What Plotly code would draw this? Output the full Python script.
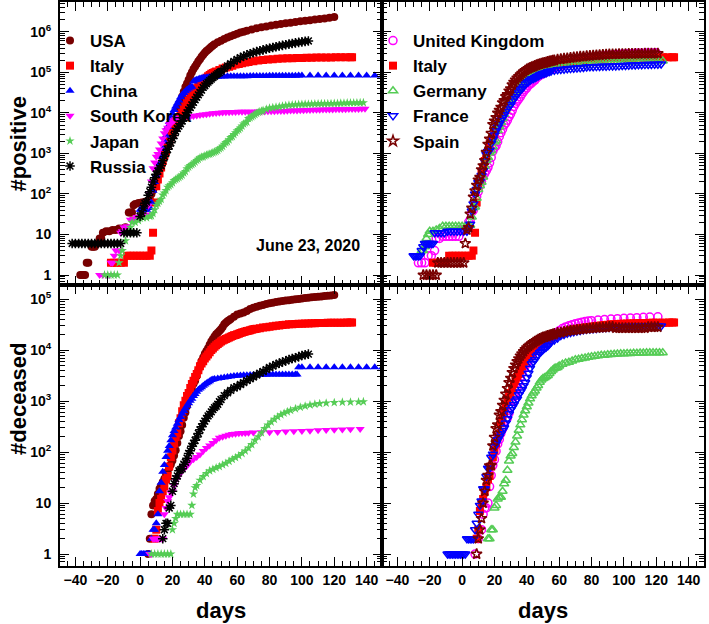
import plotly.graph_objects as go

# ---------------- DATA (days since per-country reference day, cumulative counts) ----------------
# Top-left: #positive
usa_pos_days = [-37,-36,-35,-34,-33,-32,-30,-29,-28,-26,-25,-24,-23,-21,-19,-17,-15,-13,-11,-9,-7,-6,-5,-4,-3,-1,1,3,5,6,7,8,9,10,11,12,13,14,15,16,17,18,19,20,21,22,23,24,25,26,27,28,29,30,31,32,33,34,35,36,37,38,39,40,41,42,43,44,45,46,48,50,52,54,56,58,60,62,64,66,69,72,75,78,81,84,87,90,93,96,99,102,105,108,111,114,117,120]
usa_pos = [1,1,1,1,2,2,5,5,5,6,8,8,11,12,12,13,13,14,14,15,35,35,35,53,57,60,62,64,68,75,100,124,158,221,319,435,541,704,994,1301,1630,2183,2770,3613,4596,6344,7783,13747,19273,25600,33276,43847,53740,65778,83836,101657,121465,140909,161831,188172,213242,243622,275367,308650,336802,366317,397121,428654,462780,496535,555313,607670,667592,735086,784326,840351,905358,965785,1012582,1069424,1158040,1237633,1309550,1369376,1442824,1508308,1577287,1643246,1699176,1770384,1831821,1897380,1961185,2023347,2093335,2163290,2255119,2347491]

italy_pos_days = [-18,-16,-14,-12,-10,-8,-6,-4,-2,0,2,4,6,7,8,9,10,11,12,13,14,15,16,17,18,19,20,21,22,23,24,25,26,27,28,29,30,31,32,33,34,35,36,37,38,39,40,41,42,43,44,45,46,47,49,51,53,55,57,59,61,63,65,67,70,73,76,79,82,85,88,91,94,97,100,103,106,109,112,115,118,121,124,127,130,131]
italy_pos = [2,2,2,2,2,3,3,3,3,3,3,3,3,4,11,62,155,229,322,453,655,888,1128,1694,2036,2502,3089,3858,4636,5883,7375,9172,10149,12462,15113,17660,21157,24747,27980,31506,35713,41035,47021,53578,59138,63927,69176,74386,80589,86498,92472,97689,101739,105792,115242,124632,132547,139422,147577,156363,162488,168941,175925,181228,189973,197675,203591,209328,213013,217185,219814,223096,225435,227364,229327,230555,232248,233197,234013,234998,235763,236651,237500,238159,238720,238833]

china_pos_days = [0,1,2,3,4,5,6,7,8,9,10,11,12,13,14,15,16,17,18,19,20,21,22,23,24,25,26,27,28,29,30,31,32,33,34,35,36,37,38,39,40,41,42,43,44,45,46,48,50,52,54,56,58,60,62,64,66,68,70,72,74,76,78,80,82,84,86,88,90,92,94,96,98,100,105,110,115,120,125,130,135,140,145,150,155]
china_pos = [41,41,41,41,41,45,45,62,121,198,291,440,571,830,1287,1975,2744,4515,5974,7711,9692,11791,14380,17205,20438,24324,28018,31161,34546,37198,40171,42638,44653,59804,63851,66492,68500,70548,72436,74185,74576,75465,76288,76936,77150,77658,78064,78824,79251,80026,80409,80651,80770,80860,80980,81062,81169,81300,81439,81661,81865,82054,82211,82447,82631,82779,82883,82992,83071,83173,83306,83370,83760,83864,83912,83944,83976,84010,84054,84103,84154,84228,84291,84494,84653]

korea_pos_days = [-25,-23,-21,-19,-18,-17,-16,-15,-13,-12,-11,-10,-8,-6,-4,-2,0,2,3,4,5,6,7,8,9,10,11,12,13,14,15,16,17,18,19,20,21,22,23,24,25,26,27,29,31,33,35,37,39,41,43,45,47,49,51,53,55,57,59,61,63,65,67,69,71,73,75,77,79,81,83,85,87,89,91,93,95,97,99,101,103,105,107,109,111,113,115,117,119,121,123,125,127,129,131,133,135,137,139]
korea_pos = [1,1,1,1,2,2,3,4,4,11,12,15,16,23,24,27,28,29,30,31,51,104,204,433,602,833,977,1261,1766,2337,3150,3736,4335,5186,5621,6088,6593,7041,7314,7478,7513,7755,7869,8086,8236,8413,8652,8897,9137,9332,9583,9786,9976,10156,10331,10423,10480,10537,10591,10653,10694,10728,10752,10774,10801,10822,10874,10909,10962,11018,11078,11122,11190,11265,11344,11441,11503,11590,11668,11719,11814,11902,11947,12003,12051,12121,12155,12198,12257,12306,12373,12421,12438,12484,12535,12563,12602,12653,12715]

japan_pos_days = [-22,-20,-18,-16,-14,-13,-12,-11,-9,-7,-6,-5,-3,-1,0,2,4,6,7,8,9,10,11,12,13,14,15,16,17,18,19,20,21,22,23,24,25,26,27,28,29,30,31,32,33,34,35,36,37,38,39,40,41,42,43,44,45,46,47,48,49,50,51,52,53,54,55,56,57,58,59,60,61,62,63,64,65,66,67,68,69,70,71,72,73,74,75,76,78,80,82,84,86,88,90,92,94,96,98,100,102,104,106,108,110,112,114,116,118,120,122,124,126,128,130,132,134,136,138]
japan_pos = [1,1,1,1,1,2,3,4,7,11,15,20,20,22,25,26,26,28,29,33,41,53,59,66,74,94,105,122,147,159,170,189,214,228,241,256,274,293,331,360,420,461,502,530,568,619,675,716,780,814,829,873,914,950,963,1007,1046,1089,1128,1193,1307,1387,1499,1693,1866,1953,2178,2495,2617,2935,3271,3654,3906,4257,4768,5347,5750,6005,7255,7645,8100,8582,9167,9795,10361,10751,11135,11512,12368,13182,13576,13965,14281,14839,15231,15547,15798,16024,16203,16305,16424,16513,16581,16719,16804,16884,16930,16986,17064,17210,17251,17382,17502,17628,17668,17740,17799,17879,17968]

russia_pos_days = [-42,-40,-38,-36,-34,-32,-30,-28,-26,-24,-22,-20,-18,-16,-14,-12,-10,-8,-6,-4,-2,0,1,2,3,4,5,6,7,8,9,10,11,12,13,14,15,16,17,18,19,20,21,22,23,24,25,26,27,28,29,30,31,32,33,34,35,36,37,38,39,40,41,42,43,44,45,46,47,48,49,50,52,54,56,58,60,62,64,66,68,70,72,74,76,78,80,82,84,86,88,90,92,94,96,98,100,102,104]
russia_pos = [6,6,6,6,6,6,6,6,6,6,6,6,6,6,6,6,11,11,11,11,11,28,34,45,59,63,93,114,147,199,253,306,367,438,495,658,840,1036,1264,1534,1836,2337,2777,3548,4149,4731,5389,6343,7497,8672,10131,11917,13584,15770,18328,21102,24490,27938,32008,36793,42853,47121,52763,57999,62773,68622,74588,80949,87147,93558,99399,106498,124054,145268,165929,187859,209688,232243,252245,272043,290678,308705,326448,344481,362342,379051,396575,414878,432277,449256,467073,485253,502436,519458,537210,553301,569063,584680,599705]

# Bottom-left: #deceased
usa_dec_days = [5,6,7,8,9,10,11,12,13,14,15,16,17,18,19,20,21,22,23,24,25,26,27,28,29,30,31,32,33,34,35,36,37,38,39,40,41,42,43,44,45,46,47,48,49,50,51,52,53,54,55,56,58,60,62,64,66,68,70,72,74,76,78,80,82,84,86,88,90,92,94,96,98,100,102,104,106,108,110,112,114,116,118,120]
usa_dec = [1,2,6,9,11,12,15,19,22,26,30,38,41,49,57,68,86,109,150,206,255,341,471,600,800,1070,1300,1700,2200,2500,3100,4000,5000,6100,7200,8500,9600,10900,12800,14800,16600,18600,20500,22000,23600,25800,28300,32000,34500,36700,38700,40600,45000,49800,52200,55000,58500,63800,67700,70800,74000,77200,80700,83000,85200,87500,90300,92000,94000,95500,97500,99300,101000,103000,104800,106800,108800,110400,111900,113300,114700,116000,118000,120500]

italy_dec_days = [9,10,11,12,13,14,15,16,17,18,19,20,21,22,23,24,25,26,27,28,29,30,31,32,33,34,35,36,37,38,39,40,41,42,43,44,45,46,47,48,49,50,51,52,53,54,55,56,57,58,59,60,61,62,63,64,65,66,67,68,69,70,71,72,74,76,78,80,82,84,86,88,90,92,94,96,98,100,102,104,106,108,110,112,114,116,118,120,122,124,126,128,130,131]
italy_dec = [2,3,7,10,12,17,21,29,34,52,79,107,148,197,233,366,463,631,827,1016,1266,1441,1809,2158,2503,2978,3405,4032,4825,5476,6077,6820,7503,8165,9134,10023,10779,11591,12428,13155,13915,14681,15362,15887,16523,17127,17669,18279,18849,19468,19899,20465,21067,21645,22170,22745,23227,23660,24114,24648,25085,25549,25969,26384,26977,27682,28236,28884,29315,29958,30560,31106,31610,32007,32330,32616,32877,33072,33340,33475,33601,33774,33899,34043,34167,34301,34405,34448,34514,34561,34610,34634,34657,34675]

china_dec_days = [0,1,2,3,4,5,6,7,8,9,10,11,12,13,14,15,16,17,18,19,20,21,22,23,24,25,26,27,28,29,30,31,32,33,34,35,36,37,38,39,40,41,42,43,44,45,46,48,50,52,54,56,58,60,62,64,66,68,70,72,74,76,78,80,82,84,86,88,90,92,94,96,97,98,100,105,110,115,120,125,130,135,140,145,150,155]
china_dec = [1,1,1,1,1,1,1,2,3,3,4,6,17,25,41,56,80,106,132,170,213,259,304,361,425,490,563,636,722,811,908,1016,1113,1259,1380,1523,1665,1770,1868,2004,2118,2236,2345,2442,2592,2663,2715,2788,2835,2912,2981,3042,3097,3136,3169,3199,3231,3249,3261,3277,3287,3295,3304,3309,3318,3326,3331,3335,3339,3340,3341,3342,3342,4632,4632,4632,4633,4633,4633,4634,4634,4634,4634,4634,4634,4634]

korea_dec_days = [6,7,8,9,10,11,12,13,14,15,16,17,18,19,20,21,22,23,24,25,26,27,28,29,30,31,33,35,37,39,41,43,45,47,49,51,53,55,57,59,61,63,65,67,70,75,80,85,90,95,100,105,110,115,120,125,130,136]
korea_dec = [1,1,2,2,2,2,2,2,2,6,8,11,13,16,17,22,28,32,35,42,44,50,51,54,60,66,72,80,90,105,120,135,150,170,190,200,210,218,225,230,233,236,238,240,242,244,246,249,252,256,260,263,267,270,273,277,280,284]

japan_dec_days = [7,9,11,13,15,17,19,20,21,22,23,25,27,29,31,32,33,34,35,37,39,41,43,45,47,49,51,53,55,57,59,61,63,65,67,69,71,73,75,77,79,81,83,85,87,89,91,93,96,99,102,105,108,111,115,120,125,130,135,138]
japan_dec = [1,1,1,1,1,1,1,3,4,5,6,6,6,6,6,9,15,20,22,28,33,38,43,46,49,52,56,60,66,72,78,85,94,105,120,140,170,200,240,290,340,390,440,490,540,580,620,660,710,760,800,840,870,895,915,935,950,958,965,971]

russia_dec_days = [14,15,16,17,18,19,20,21,22,23,24,25,26,27,28,29,30,31,32,33,34,35,36,37,38,39,40,41,42,43,44,45,46,47,48,49,50,52,54,56,58,60,62,64,66,68,70,72,74,76,78,80,82,84,86,88,90,92,94,96,98,100,102,104]
russia_dec = [2,3,4,4,8,9,17,24,30,34,43,45,47,58,63,76,94,106,130,148,170,198,232,273,313,361,405,456,513,555,615,681,747,794,867,972,1073,1280,1451,1625,1827,1915,2116,2305,2537,2722,2972,3249,3541,3807,4142,4555,4855,5215,5528,5859,6142,6532,6829,7081,7468,7831,8111,8359]

# Top-right: #positive
uk_pos_days = [-27,-25,-23,-21,-19,-17,-16,-14,-12,-10,-8,-6,-4,-2,-1,0,2,3,4,5,6,7,8,9,10,11,12,13,14,15,16,17,18,19,20,21,22,23,24,25,26,27,28,29,30,31,32,33,34,35,36,37,38,39,40,41,42,43,44,45,46,47,48,49,50,51,52,53,54,55,56,58,60,62,64,66,68,70,72,74,76,78,80,82,84,86,88,90,92,94,96,98,100,102,104,106,108,110,112,114,116,118,120]
uk_pos = [2,2,2,3,3,4,8,8,9,9,9,9,9,9,13,13,13,15,20,23,36,40,51,85,115,163,206,273,321,382,456,590,798,1140,1391,1543,1950,2626,3269,3983,5018,5683,6650,8077,9529,11658,14543,17089,19522,22141,25150,29474,33718,38168,41903,47806,51608,55242,60733,65077,73758,78991,84279,88621,93873,98476,103093,108692,114217,120067,124743,133495,143464,152840,161145,171253,182260,190584,201101,211364,219183,226463,233151,240161,246406,250908,257154,261184,267240,274762,279856,283311,286194,289140,291588,294375,296857,298136,300469,301815,303110,304331,306210]

germany_pos_days = [-25,-24,-23,-22,-21,-20,-18,-16,-14,-12,-10,-8,-6,-4,-2,0,2,4,5,6,7,8,9,10,11,12,13,14,15,16,17,18,19,20,21,22,23,24,25,26,27,28,29,30,31,32,33,34,35,36,37,38,39,40,41,42,43,44,45,46,47,48,49,50,51,52,53,54,55,56,58,60,62,64,66,68,70,72,74,76,78,80,82,84,86,88,90,92,94,96,98,100,102,104,106,108,110,112,114,116,118,120,122,124]
germany_pos = [4,4,5,8,10,12,12,13,14,16,16,16,16,16,16,16,16,17,17,27,46,48,79,130,159,196,262,482,670,799,1040,1176,1457,1908,2078,3675,4585,5795,7272,9257,12327,15320,19848,22213,24873,29056,32986,37323,43938,50871,57695,62095,66885,71808,77872,84794,91159,96092,100123,103375,107663,113296,118181,122171,124908,127854,130072,131359,134753,137698,143342,147065,150648,153129,156513,158758,161539,163009,164077,166152,167300,169218,171324,172576,173772,174975,176007,177778,178531,179364,180600,181482,182922,183678,184472,185416,186109,186839,187671,188252,189135,190299,190862,191449]

france_pos_days = [-30,-29,-28,-27,-26,-25,-24,-23,-22,-21,-20,-19,-18,-17,-15,-13,-11,-9,-7,-5,-3,-1,1,3,4,5,6,7,8,9,10,11,12,13,14,15,16,17,18,19,20,21,22,23,24,25,26,27,28,29,30,31,32,33,34,35,36,37,38,39,40,41,42,43,44,45,46,47,48,49,50,51,52,53,54,55,57,59,61,63,65,67,69,71,73,75,77,79,81,83,85,87,89,91,93,95,97,99,101,103,105,107,109,111,113,115,117,119,121,123]
france_pos = [3,3,3,3,3,4,5,6,6,6,6,6,6,11,11,11,11,12,12,12,12,12,12,12,14,18,38,57,100,130,191,204,285,377,653,949,1126,1209,1784,2281,2876,3661,4499,5423,6633,7652,9043,10871,12612,14459,16018,19856,22304,25233,29155,32964,37575,40174,44550,52128,56989,59105,64338,68605,70478,74390,78167,82048,86334,90276,93790,95403,98076,103573,106206,108847,112606,117324,119151,120804,124114,124575,126835,128442,130185,132967,137150,138421,139063,139519,140734,141919,142291,143427,144163,145279,145555,148524,149071,151325,152444,153634,155136,155561,156287,157220,158174,159452,160093,161267]

spain_pos_days = [-24,-22,-20,-18,-16,-15,-13,-11,-9,-7,-5,-3,-1,1,2,3,4,5,6,7,8,9,10,11,12,13,14,15,16,17,18,19,20,21,22,23,24,25,26,27,28,29,30,31,32,33,34,35,36,37,38,39,40,41,42,43,44,45,46,47,48,49,50,51,52,53,54,55,56,57,59,61,63,65,67,69,71,73,75,77,79,81,83,85,87,89,91,93,95,97,99,101,103,105,107,109,111,113,115,117,119,121]
spain_pos = [1,1,1,1,1,2,2,2,2,2,2,2,2,2,6,13,15,32,45,84,120,165,222,259,400,500,673,1073,1695,2277,3146,5232,6391,7798,9942,11748,13910,17963,20410,25374,28603,35136,39885,49515,57786,65719,73235,80110,87956,95923,104118,112065,119199,124736,130759,135032,140510,146690,152446,157022,161852,166019,169496,172541,177633,182816,188068,191726,195944,200210,208389,213024,219764,223759,229422,236899,239639,245567,248301,253682,256855,262783,264663,269520,272646,276505,278803,280117,282370,283339,284986,286509,287406,288058,288797,289360,290289,291008,291763,292655,293018,293832]

# Bottom-right: #deceased
uk_dec_days = [8,10,12,13,14,15,16,17,18,19,20,21,22,23,24,25,26,27,28,29,30,31,32,33,34,35,36,37,38,39,40,41,42,43,44,45,46,47,48,49,50,52,54,56,58,60,62,64,66,68,70,72,74,76,78,80,84,88,92,96,100,104,108,112,116,121]
uk_dec = [1,2,3,6,8,8,10,21,35,55,71,104,144,177,233,281,335,422,465,578,759,1019,1228,1408,1789,2352,2921,3605,4313,4934,5373,6159,7097,7978,8958,9875,10612,11329,12107,12868,13729,15464,17300,19500,21800,24000,26500,28500,30000,31500,33000,34200,35300,36300,37100,37800,38900,39800,40600,41300,42000,42700,43300,43900,44400,45000]

germany_dec_days = [16,17,18,19,20,21,22,23,24,25,26,27,28,29,30,31,32,33,34,35,36,37,38,39,40,41,42,43,44,45,46,47,48,49,50,51,52,53,54,55,56,57,58,59,60,62,64,66,68,70,72,74,76,78,80,82,84,86,88,90,92,94,96,98,100,102,104,106,108,110,112,114,116,118,120,122,124]
germany_dec = [2,2,3,3,8,9,12,13,13,17,24,28,44,67,84,94,123,157,206,267,342,433,533,645,775,920,1107,1275,1444,1584,1810,2016,2349,2607,2767,2873,3022,3194,3495,3804,4052,4352,4459,4586,4862,5279,5575,5760,6115,6467,6623,6831,6993,7275,7392,7549,7723,7897,7938,8090,8203,8283,8371,8450,8511,8576,8613,8674,8711,8776,8813,8846,8856,8872,8887,8895,8914]

france_dec_days = [-9,-8,-7,-6,-5,-4,-3,-2,-1,0,1,2,3,4,5,6,7,8,9,10,11,12,13,14,15,16,17,18,19,20,21,22,23,24,25,26,27,28,29,30,31,32,33,34,35,36,37,38,39,40,41,42,43,44,45,46,47,48,49,50,51,52,53,54,55,57,59,61,63,65,67,69,71,73,75,77,79,81,83,85,87,89,91,93,95,97,99,101,103,105,107,109,111,113,115,117,119,121,123]
france_dec = [1,1,1,1,1,1,1,1,1,1,1,1,2,2,2,2,2,3,4,6,9,11,19,19,33,48,48,79,91,127,148,175,200,230,264,300,372,450,562,674,760,860,1000,1100,1331,1500,1696,1995,2314,2900,3523,4403,5387,5900,6507,7560,8078,8911,9500,10328,10869,11500,12210,13197,14393,15729,17188,19323,20265,21340,22245,22856,23660,24376,25201,25531,25987,26380,26643,27074,27425,27625,28022,28289,28530,28714,28802,28940,29021,29155,29296,29374,29436,29547,29617,29640,29690,29723,29750]

spain_dec_days = [9,10,11,12,13,14,15,16,17,18,19,20,21,22,23,24,25,26,27,28,29,30,31,32,33,34,35,36,37,38,39,40,41,42,43,44,45,46,47,48,49,50,51,52,53,54,55,56,57,59,61,63,65,67,69,71,73,75,77,79,81,83,85,87,89,91,93,95,97,99,101,103,105,107,109,111,113,115,117,119,121]
spain_dec = [1,2,3,5,10,17,28,35,54,55,133,195,289,342,533,623,830,1043,1375,1772,2311,2808,3647,4365,5138,5982,6803,7716,8464,9387,10348,11198,11947,12641,13341,14045,14792,15447,16081,16606,17209,17756,18056,18579,19130,19478,20043,20453,20852,21717,22157,22902,23521,24275,24543,25100,25428,25857,26299,26621,26920,27321,27563,27709,27888,28628,28752,27117,27119,27127,27127,27133,27134,27136,27136,27136,27136,28313,28315,28322,28324]

y_tick_vals_pos = [1, 10, 100, 1000, 10000, 100000, 1000000]
y_tick_text_pos = ["1", "10", "10<sup>2</sup>", "10<sup>3</sup>", "10<sup>4</sup>", "10<sup>5</sup>", "10<sup>6</sup>"]
y_tick_vals_dec = [1, 10, 100, 1000, 10000, 100000]
y_tick_text_dec = ["1", "10", "10<sup>2</sup>", "10<sup>3</sup>", "10<sup>4</sup>", "10<sup>5</sup>"]
x_tick_vals = [-40, -20, 0, 20, 40, 60, 80, 100, 120, 140]
date_label = "June 23, 2020"

# ---------------- STYLE ----------------
FONT = "Liberation Sans, Arial, Helvetica, sans-serif"
DARKRED = "#780000"
GREEN = "#55CC55"

fig = go.Figure()

def add(days, vals, name, symbol, color, xa, ya, legend=None, size=8, lw=1.5):
    marker = dict(symbol=symbol, size=size, color=color,
                  line=dict(color=color, width=lw if ("open" in symbol) else 0))
    fig.add_trace(go.Scatter(
        x=days, y=vals, mode="markers", name=name, marker=marker,
        xaxis=xa, yaxis=ya, showlegend=legend is not None,
        legend=legend if legend else "legend", cliponaxis=True))

# top-left
add(usa_pos_days, usa_pos, "USA", "circle", DARKRED, "x", "y", "legend")
add(italy_pos_days, italy_pos, "Italy", "square", "#FF0000", "x", "y", "legend")
add(china_pos_days, china_pos, "China", "triangle-up", "#0000FF", "x", "y", "legend")
add(korea_pos_days, korea_pos, "South Korea", "triangle-down", "#FF00FF", "x", "y", "legend")
add(japan_pos_days, japan_pos, "Japan", "star", GREEN, "x", "y", "legend", size=7)
fig.add_trace(go.Scatter(x=russia_pos_days, y=russia_pos, mode="markers", name="Russia",
                         marker=dict(symbol="asterisk-open", size=8, color="black",
                                     line=dict(color="black", width=1.5)),
                         xaxis="x", yaxis="y", legend="legend"))
# bottom-left
add(usa_dec_days, usa_dec, "USA", "circle", DARKRED, "x3", "y3")
add(italy_dec_days, italy_dec, "Italy", "square", "#FF0000", "x3", "y3")
add(china_dec_days, china_dec, "China", "triangle-up", "#0000FF", "x3", "y3")
add(korea_dec_days, korea_dec, "South Korea", "triangle-down", "#FF00FF", "x3", "y3")
add(japan_dec_days, japan_dec, "Japan", "star", GREEN, "x3", "y3", size=7)
fig.add_trace(go.Scatter(x=russia_dec_days, y=russia_dec, mode="markers", name="Russia",
                         marker=dict(symbol="asterisk-open", size=8, color="black",
                                     line=dict(color="black", width=1.5)),
                         xaxis="x3", yaxis="y3", showlegend=False))
# top-right
add(uk_pos_days, uk_pos, "United Kingdom", "circle-open", "#FF00FF", "x2", "y2", "legend2")
add(italy_pos_days, italy_pos, "Italy", "square", "#FF0000", "x2", "y2", "legend2")
add(germany_pos_days, germany_pos, "Germany", "triangle-up-open", GREEN, "x2", "y2", "legend2")
add(france_pos_days, france_pos, "France", "triangle-down-open", "#0000FF", "x2", "y2", "legend2")
add(spain_pos_days, spain_pos, "Spain", "star-open", DARKRED, "x2", "y2", "legend2")
# bottom-right
add(uk_dec_days, uk_dec, "United Kingdom", "circle-open", "#FF00FF", "x4", "y4")
add(italy_dec_days, italy_dec, "Italy", "square", "#FF0000", "x4", "y4")
add(germany_dec_days, germany_dec, "Germany", "triangle-up-open", GREEN, "x4", "y4")
add(france_dec_days, france_dec, "France", "triangle-down-open", "#0000FF", "x4", "y4")
add(spain_dec_days, spain_dec, "Spain", "star-open", DARKRED, "x4", "y4")

minor_log = [k * 10 ** n for n in range(-1, 7) for k in range(2, 10)]

def xax(domain, labels, anchor):
    return dict(domain=domain, range=[-49.5, 149.5], anchor=anchor, automargin=False,
                showline=True, linewidth=2, linecolor="black", mirror="allticks",
                ticks="inside", ticklen=9, tickwidth=1, tickcolor="black",
                tickvals=x_tick_vals, showticklabels=labels, showgrid=False, zeroline=False,
                tickfont=dict(family=FONT, size=14, color="black", weight="bold"),
                minor=dict(ticks="inside", ticklen=5, tickwidth=1, tickcolor="black",
                           dtick=5, tick0=0, showgrid=False))

def yax(domain, rng, vals, text, labels, anchor):
    return dict(domain=domain, type="log", range=rng, anchor=anchor, automargin=False,
                showline=True, linewidth=2, linecolor="black", mirror="allticks",
                ticks="inside", ticklen=9, tickwidth=1, tickcolor="black",
                tickvals=vals, ticktext=text, showticklabels=labels, showgrid=False,
                zeroline=False, ticklabelstandoff=4,
                tickfont=dict(family=FONT, size=14, color="black", weight="bold"),
                minor=dict(ticks="inside", ticklen=5, tickwidth=1, tickcolor="black",
                           tickvals=minor_log, showgrid=False))

def note(text, xpx, ypx, size, angle=0):
    return dict(text=text, x=(xpx - 60) / 644, y=(566 - ypx) / 564, xref="paper", yref="paper",
                xanchor="center", yanchor="middle", showarrow=False, textangle=angle,
                font=dict(family=FONT, size=size, color="black", weight="bold"))

split = 0.498
leg_font = dict(family=FONT, size=17, color="black", weight="bold")
fig.update_layout(
    width=709, height=624,
    margin=dict(l=60, r=5, t=2, b=58, autoexpand=False),
    paper_bgcolor="white", plot_bgcolor="white",
    font=dict(family=FONT, color="black"),
    xaxis=xax([0, 0.5], False, "y"),
    yaxis=yax([split, 1], [-0.25, 6.74], y_tick_vals_pos, y_tick_text_pos, True, "x"),
    xaxis2=xax([0.5, 1], False, "y2"),
    yaxis2=yax([split, 1], [-0.25, 6.74], y_tick_vals_pos, y_tick_text_pos, False, "x2"),
    xaxis3=xax([0, 0.5], True, "y3"),
    yaxis3=yax([0, split], [-0.235, 5.275], y_tick_vals_dec, y_tick_text_dec, True, "x3"),
    xaxis4=xax([0.5, 1], True, "y4"),
    yaxis4=yax([0, split], [-0.235, 5.275], y_tick_vals_dec, y_tick_text_dec, False, "x4"),
    legend=dict(x=(50 - 60) / 644, y=(566 - 23) / 564, xanchor="left", yanchor="top",
                bgcolor="rgba(0,0,0,0)", borderwidth=0, font=leg_font, itemwidth=30),
    legend2=dict(x=(373 - 60) / 644, y=(566 - 23) / 564, xanchor="left", yanchor="top",
                 bgcolor="rgba(0,0,0,0)", borderwidth=0, font=leg_font, itemwidth=30),
    annotations=[
        note(date_label, 308, 245, 16),
        note("#positive", 18, 144.5, 22, -90),
        note("#deceased", 18, 399, 22, -90),
        note("days", 220.5, 610, 22),
        note("days", 543, 610, 22),
    ],
)

fig.write_html("out.html", config={"displayModeBar": False},
               post_script="document.body.style.margin='0';")
